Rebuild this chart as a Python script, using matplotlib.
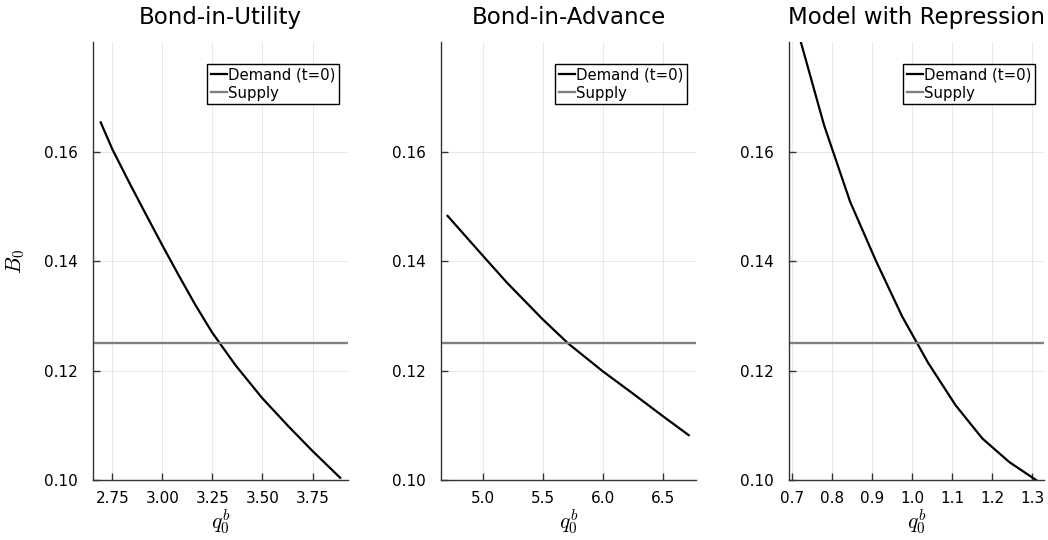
import matplotlib
matplotlib.use("Agg")
import matplotlib.pyplot as plt

plt.rcParams['font.family'] = ['DejaVu Sans']
plt.rcParams['mathtext.fontset'] = 'cm'

# ---- data ----
titles = ["Bond-in-Utility", "Bond-in-Advance", "Model with Repression"]

q_utility = [2.692, 2.75, 2.833, 2.916, 3.000, 3.082, 3.165, 3.248, 3.365, 3.498, 3.630, 3.750, 3.888]
B_utility = [0.1654, 0.1605, 0.1545, 0.1487, 0.1429, 0.1374, 0.1320, 0.1270, 0.1210, 0.1150, 0.1098, 0.1053, 0.1004]

q_advance = [4.705, 5.0, 5.200, 5.498, 5.715, 5.999, 6.258, 6.500, 6.717]
B_advance = [0.1483, 0.1410, 0.1361, 0.1294, 0.1249, 0.1199, 0.1157, 0.1117, 0.1082]

q_repress = [0.711, 0.780, 0.845, 0.910, 0.975, 1.040, 1.108, 1.175, 1.242, 1.311]
B_repress = [0.1830, 0.1649, 0.1509, 0.1400, 0.1299, 0.1214, 0.1137, 0.1076, 0.1033, 0.0999]

supply = 0.125

yticks = [0.10, 0.12, 0.14, 0.16]
yticklabels = ["0.10", "0.12", "0.14", "0.16"]
ylims = (0.10, 0.1801)
xticks = [[2.75, 3.00, 3.25, 3.50, 3.75], [5.0, 5.5, 6.0, 6.5], [0.7, 0.8, 0.9, 1.0, 1.1, 1.2, 1.3]]
xticklabels = [["2.75", "3.00", "3.25", "3.50", "3.75"], ["5.0", "5.5", "6.0", "6.5"],
               ["0.7", "0.8", "0.9", "1.0", "1.1", "1.2", "1.3"]]
xlims = [(2.6535, 3.927), (4.65, 6.778), (0.6925, 1.329)]

series = [(q_utility, B_utility), (q_advance, B_advance), (q_repress, B_repress)]

W, H = 1048, 540
fig = plt.figure(figsize=(W / 100, H / 100), dpi=100)
lefts = [93, 441, 789]
ax_w = 255
top, bottom = 42, 480

for i, (q, B) in enumerate(series):
    ax = fig.add_axes([lefts[i] / W, (H - bottom) / H, ax_w / W, (bottom - top) / H])
    ax.plot(q, B, color='black', lw=1.6, label='Demand (t=0)')
    ax.axhline(supply, color='#808080', lw=1.7, label='Supply')
    ax.set_xlim(*xlims[i])
    ax.set_ylim(*ylims)
    ax.set_xticks(xticks[i])
    ax.set_xticklabels(xticklabels[i])
    ax.set_yticks(yticks)
    ax.set_yticklabels(yticklabels)
    ax.grid(True, color='black', alpha=0.1, lw=0.6)
    ax.spines['top'].set_visible(False)
    ax.spines['right'].set_visible(False)
    for s in ('left', 'bottom'):
        ax.spines[s].set_color('#333333')
        ax.spines[s].set_linewidth(1.0)
    ax.tick_params(direction='in', length=5, width=1, color='#333333', labelsize=11)
    ax.tick_params(axis='y', pad=11)
    ax.tick_params(axis='x', pad=8)
    ax.set_title(titles[i], fontsize=16.5, pad=13)
    ax.set_xlabel(r'$q_0^b$', fontsize=15.5, labelpad=1)
    if i == 0:
        ax.set_ylabel(r'$B_0$', fontsize=15.5, labelpad=12)
    leg = ax.legend(loc='upper right', bbox_to_anchor=(0.965, 0.950), fontsize=10.7,
                    frameon=True, fancybox=False, framealpha=1, edgecolor='black',
                    borderpad=0.25, handlelength=1.05, handletextpad=0.08,
                    labelspacing=0.2, borderaxespad=0)
    leg.get_frame().set_linewidth(1.0)

fig.savefig('out.png', dpi=100)
